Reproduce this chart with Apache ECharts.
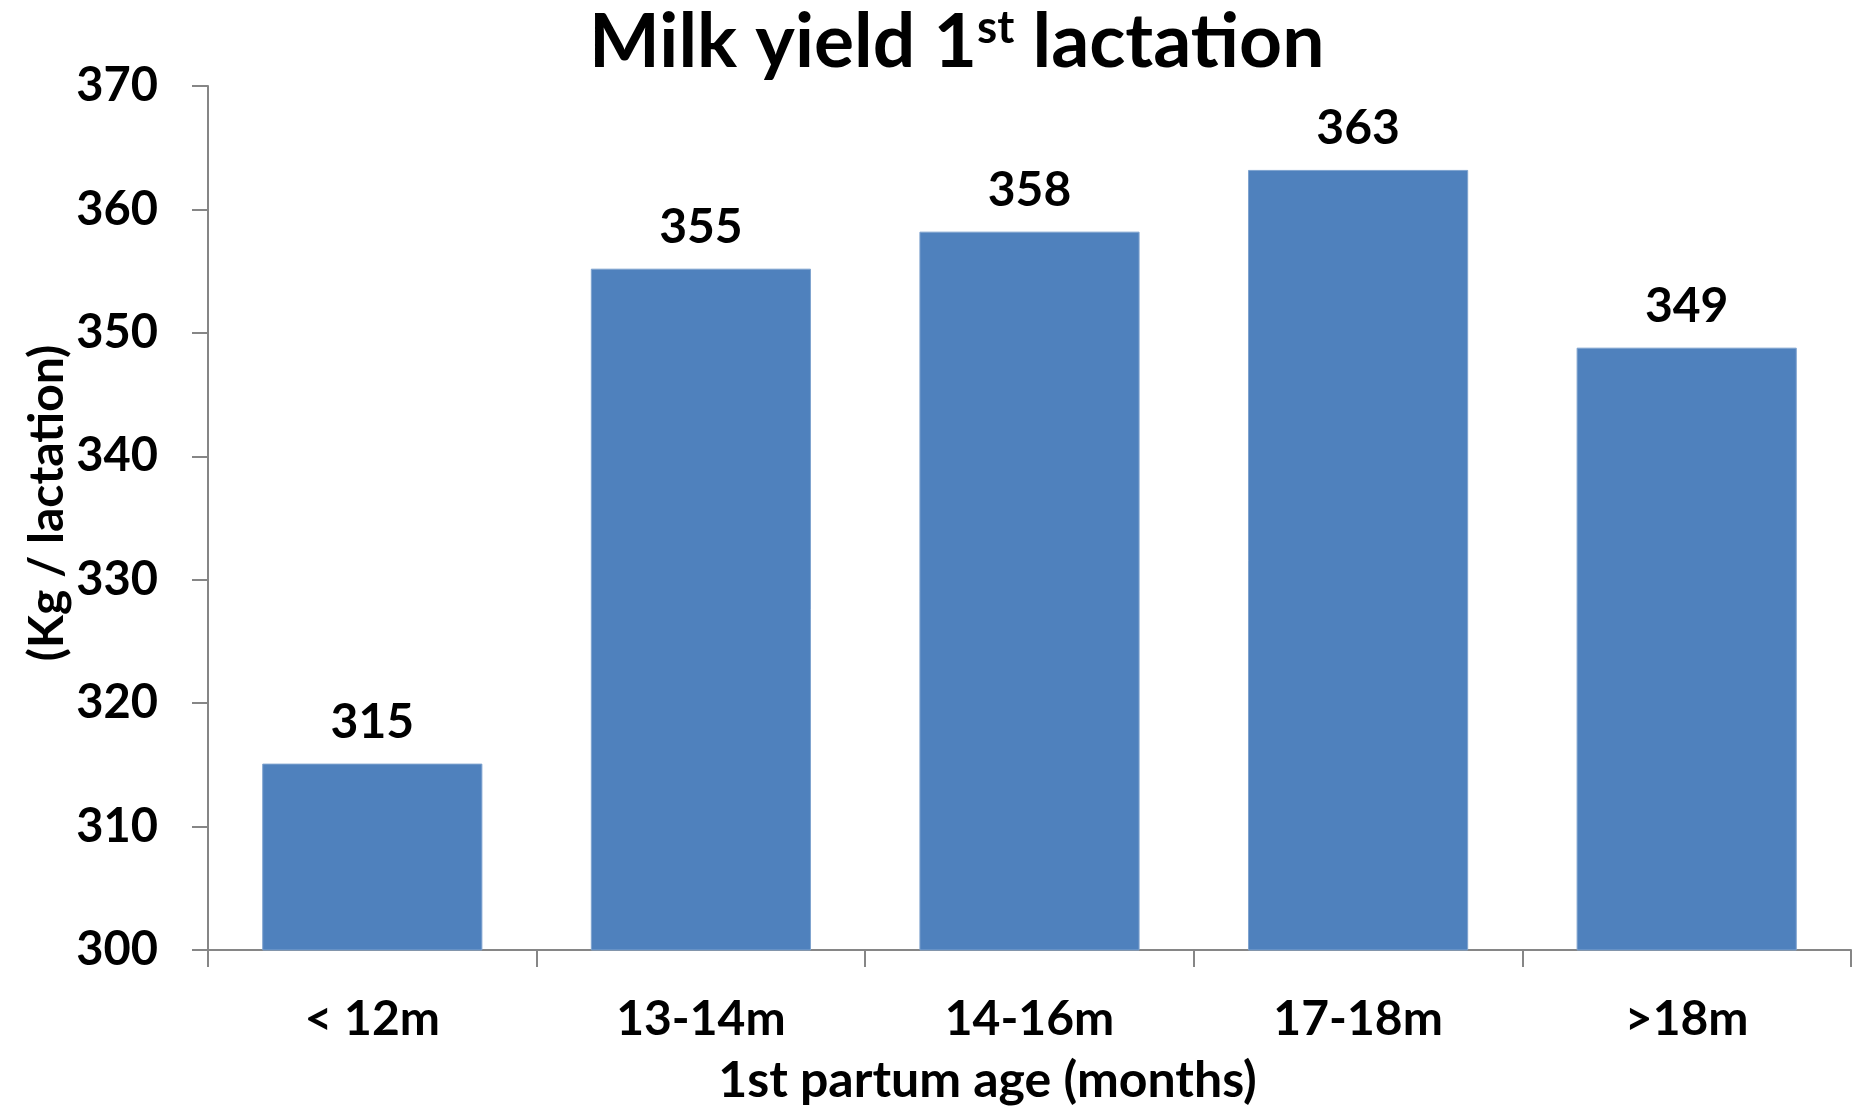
<!DOCTYPE html>
<html>
<head>
<meta charset="utf-8">
<script src="https://cdn.jsdelivr.net/npm/echarts@6/dist/echarts.min.js"></script>
<style>html,body{margin:0;padding:0;background:#fff}#chart{width:1863px;height:1106px}</style>
</head>
<body>
<div id="chart"></div>
<script>
const categories = ['< 12m', '13-14m', '14-16m', '17-18m', '>18m'];
const milkYield = [315.1, 355.2, 358.2, 363.2, 348.8];
const yTicks = { min: 300, max: 370, interval: 10 };
const titleText = 'Milk yield 1{sup|st} lactation';
const yName = '(Kg / lactation)';
const xName = '1st partum age (months)';

const FONT = 'Lato';
const chart = echarts.init(document.getElementById('chart'), null, { renderer: 'canvas' });
chart.setOption({
  animation: false,
  backgroundColor: '#ffffff',
  title: {
    text: titleText,
    left: 584,
    top: 0,
    textStyle: {
      fontFamily: FONT, fontWeight: 'bold', fontSize: 75, color: '#000',
      rich: { sup: { fontFamily: FONT, fontWeight: 'bold', fontSize: 46, color: '#000', verticalAlign: 'top', padding: [0, 0, 30, 0] } }
    }
  },
  grid: { left: 208, right: 12, top: 86, bottom: 156, containLabel: false, outerBoundsMode: 'none' },
  xAxis: {
    type: 'category',
    data: categories,
    name: xName,
    nameLocation: 'middle',
    nameGap: 106,
    nameMoveOverlap: false,
    nameTextStyle: { fontFamily: FONT, fontWeight: 'bold', fontSize: 50, color: '#000', padding: [0, 84, 0, 0] },
    axisLine: { lineStyle: { color: '#868686', width: 2 } },
    axisTick: { show: true, length: 17, lineStyle: { color: '#868686', width: 2 } },
    axisLabel: { margin: 46, fontFamily: FONT, fontWeight: 'bold', fontSize: 48, lineHeight: 48, color: '#000' }
  },
  yAxis: {
    type: 'value',
    min: yTicks.min, max: yTicks.max, interval: yTicks.interval,
    name: yName,
    nameLocation: 'middle',
    nameGap: 136,
    nameMoveOverlap: false,
    nameTextStyle: { fontFamily: FONT, fontWeight: 'bold', fontSize: 48, color: '#000', padding: [0, 0, 0, 30] },
    axisLine: { show: true, lineStyle: { color: '#868686', width: 2 } },
    axisTick: { show: true, length: 16, lineStyle: { color: '#868686', width: 2 } },
    splitLine: { show: false },
    axisLabel: { margin: 50, fontFamily: FONT, fontWeight: 'bold', fontSize: 47, color: '#000' }
  },
  series: [{
    type: 'bar',
    data: milkYield,
    barCategoryGap: '33%',
    itemStyle: { color: '#4F81BD', borderColor: '#7FA3CF', borderWidth: 1 },
    label: {
      show: true, position: 'top', distance: 17,
      fontFamily: FONT, fontWeight: 'bold', fontSize: 48, color: '#000',
      formatter: p => Math.round(p.value)
    }
  }]
});
</script>
</body>
</html>
